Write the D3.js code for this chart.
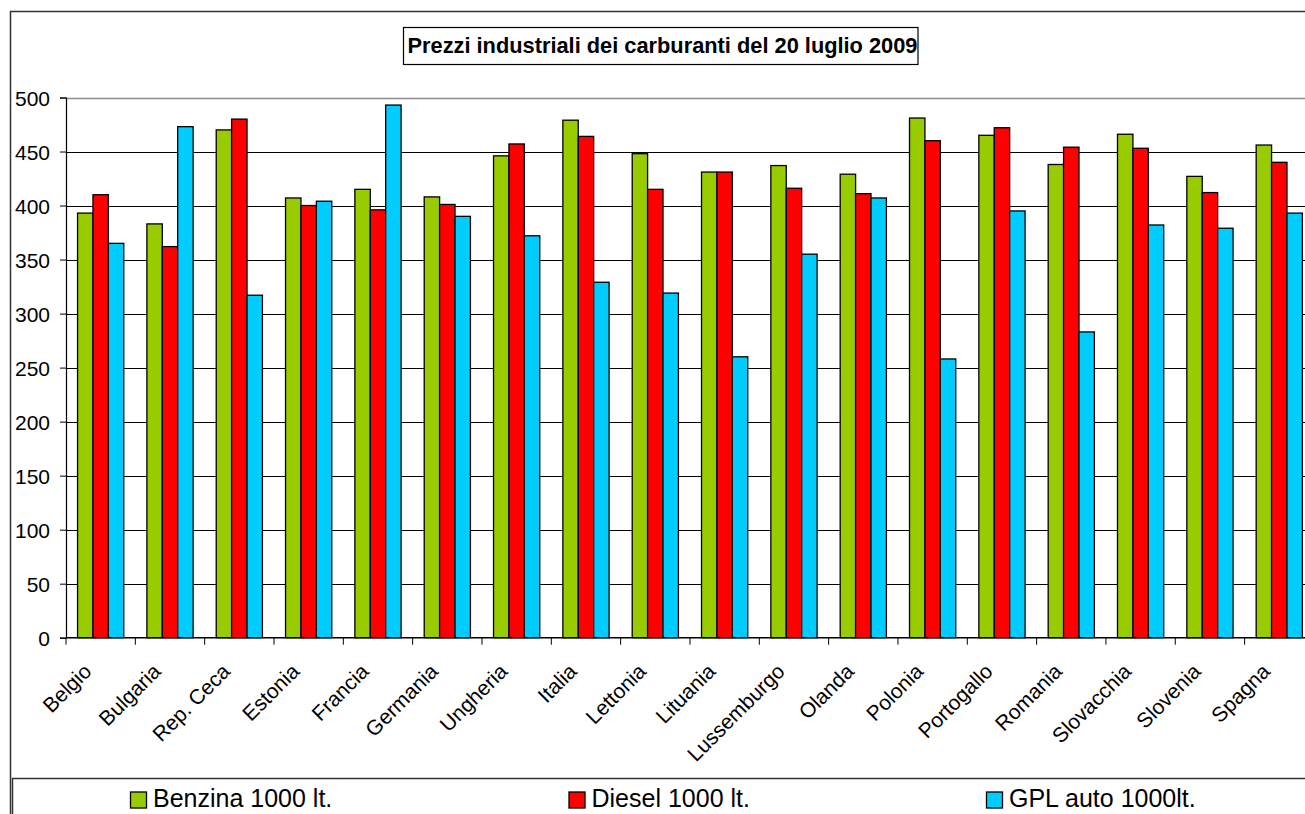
<!DOCTYPE html>
<html>
<head>
<meta charset="utf-8">
<script src="https://cdn.jsdelivr.net/npm/d3@7"></script>
<style>
  body { margin: 0; background: #fff; }
  svg { display: block; font-family: Arial, "Liberation Sans", sans-serif; }
</style>
</head>
<body>
<div id="card"></div>
<script>
// chart data
const countries = ["Belgio", "Bulgaria", "Rep. Ceca", "Estonia", "Francia", "Germania", "Ungheria", "Italia", "Lettonia",
  "Lituania", "Lussemburgo", "Olanda", "Polonia", "Portogallo", "Romania", "Slovacchia", "Slovenia", "Spagna"];
const seriesNames = ["Benzina 1000 lt.", "Diesel 1000 lt.", "GPL auto 1000lt."];
const benzina = [393, 383, 470, 407, 415, 408, 446, 479, 448, 431, 437, 429, 481, 465, 438, 466, 427, 456];
const diesel = [410, 362, 480, 400, 396, 401, 457, 464, 415, 431, 416, 411, 460, 472, 454, 453, 412, 440];
const gpl = [365, 473, 317, 404, 493, 390, 372, 329, 319, 260, 355, 407, 258, 395, 283, 382, 379, 393];
const yTicks = [0, 50, 100, 150, 200, 250, 300, 350, 400, 450, 500];
const titleText = "Prezzi industriali dei carburanti del 20 luglio 2009";

const w = 1305;
const h = 814;
const colors = ["#99CC00", "#FF0000", "#00CCFF"];
const values = [benzina, diesel, gpl];

const plot = { left: 66, top: 97.5, bottom: 637.7, step: 69.33 };

const svg = d3.select("#card")
  .append("svg")
  .attr("width", w)
  .attr("height", h);

// outer chart border
svg.append("rect")
  .attr("x", 10.5).attr("y", 11.5)
  .attr("width", 1320).attr("height", 830)
  .attr("fill", "#fff")
  .attr("stroke", "#333")
  .attr("stroke-width", 1.5);

// scales
const x = d3.scaleBand()
  .domain(countries)
  .range([plot.left, plot.left + plot.step * countries.length])
  .padding(0);

const xSub = d3.scaleBand()
  .domain(seriesNames)
  .range([0, x.bandwidth()])
  .paddingInner(0)
  .paddingOuter(0.75);

const y = d3.scaleLinear()
  .domain([0, 500])
  .range([plot.bottom, plot.top]);

const chart = svg.append("g");

// gridlines
chart.append("g")
  .selectAll("line")
  .data(yTicks.filter(d => d > 0))
  .enter()
  .append("line")
  .attr("x1", plot.left)
  .attr("x2", w + 20)
  .attr("y1", d => Math.round(y(d)) + 0.5)
  .attr("y2", d => Math.round(y(d)) + 0.5)
  .attr("stroke", d => d === 500 ? "#8c8c8c" : "#000")
  .attr("stroke-width", d => d === 500 ? 1.5 : 1);

// bars
const groups = chart.selectAll(".group")
  .data(countries)
  .enter()
  .append("g")
  .attr("class", "group")
  .attr("transform", d => "translate(" + x(d) + ",0)");

groups.selectAll("rect")
  .data((c, i) => seriesNames.map((s, j) => ({ s: s, v: values[j][i], c: colors[j] })))
  .enter()
  .append("rect")
  .attr("x", d => xSub(d.s))
  .attr("y", d => y(d.v))
  .attr("width", xSub.bandwidth())
  .attr("height", d => y(0) - y(d.v))
  .attr("fill", d => d.c)
  .attr("stroke", "#000")
  .attr("stroke-width", 1.3);

// y axis
const yAxis = d3.axisLeft(y)
  .tickValues(yTicks)
  .tickSize(6)
  .tickPadding(10);

const yG = chart.append("g")
  .attr("transform", "translate(" + plot.left + ",0)")
  .call(yAxis);
yG.select(".domain").attr("stroke", "#000").attr("stroke-width", 1.2);
yG.selectAll(".tick line").attr("stroke", "#000");
yG.selectAll("text")
  .style("font-size", "21px")
  .attr("fill", "#000")
  .attr("dy", "0.38em");

// x axis (ticks between categories)
const xG = chart.append("g")
  .attr("transform", "translate(0," + plot.bottom + ")");
xG.append("line")
  .attr("x1", plot.left).attr("x2", w + 20)
  .attr("y1", 0).attr("y2", 0)
  .attr("stroke", "#000").attr("stroke-width", 1.5);
xG.selectAll(".xtick")
  .data(countries)
  .enter()
  .append("line")
  .attr("class", "xtick")
  .attr("x1", d => x(d)).attr("x2", d => x(d))
  .attr("y1", 0).attr("y2", 7)
  .attr("stroke", "#000");

xG.selectAll(".xlabel")
  .data(countries)
  .enter()
  .append("text")
  .attr("class", "xlabel")
  .attr("text-anchor", "end")
  .attr("transform", d => "translate(" + (x(d) + x.bandwidth() / 2 - 8) + ",35) rotate(-45)")
  .style("font-size", "21px")
  .text(d => d);

// title with box
const titleG = svg.append("g");
titleG.append("rect")
  .attr("x", 403.5).attr("y", 27.5)
  .attr("width", 918 - 403.5).attr("height", 37)
  .attr("fill", "#fff")
  .attr("stroke", "#000")
  .attr("stroke-width", 1.2);
titleG.append("text")
  .attr("x", 662.5)
  .attr("y", 53)
  .attr("text-anchor", "middle")
  .style("font-size", "21.8px")
  .style("font-weight", "bold")
  .text(titleText);

// legend
const legendX = [130, 568.5, 986];
svg.append("rect")
  .attr("x", 12.5).attr("y", 778.5)
  .attr("width", 1320).attr("height", 60)
  .attr("fill", "#fff")
  .attr("stroke", "#333")
  .attr("stroke-width", 1.5);

const legend = svg.selectAll(".legend")
  .data(seriesNames)
  .enter()
  .append("g")
  .attr("class", "legend")
  .attr("transform", (d, i) => "translate(" + legendX[i] + ",0)");

legend.append("rect")
  .attr("x", 0.5).attr("y", 792)
  .attr("width", 16).attr("height", 16)
  .attr("fill", (d, i) => colors[i])
  .attr("stroke", "#000")
  .attr("stroke-width", 1.3);

legend.append("text")
  .attr("x", 23)
  .attr("y", 807)
  .style("font-size", "25px")
  .text(d => d);
</script>
</body>
</html>
